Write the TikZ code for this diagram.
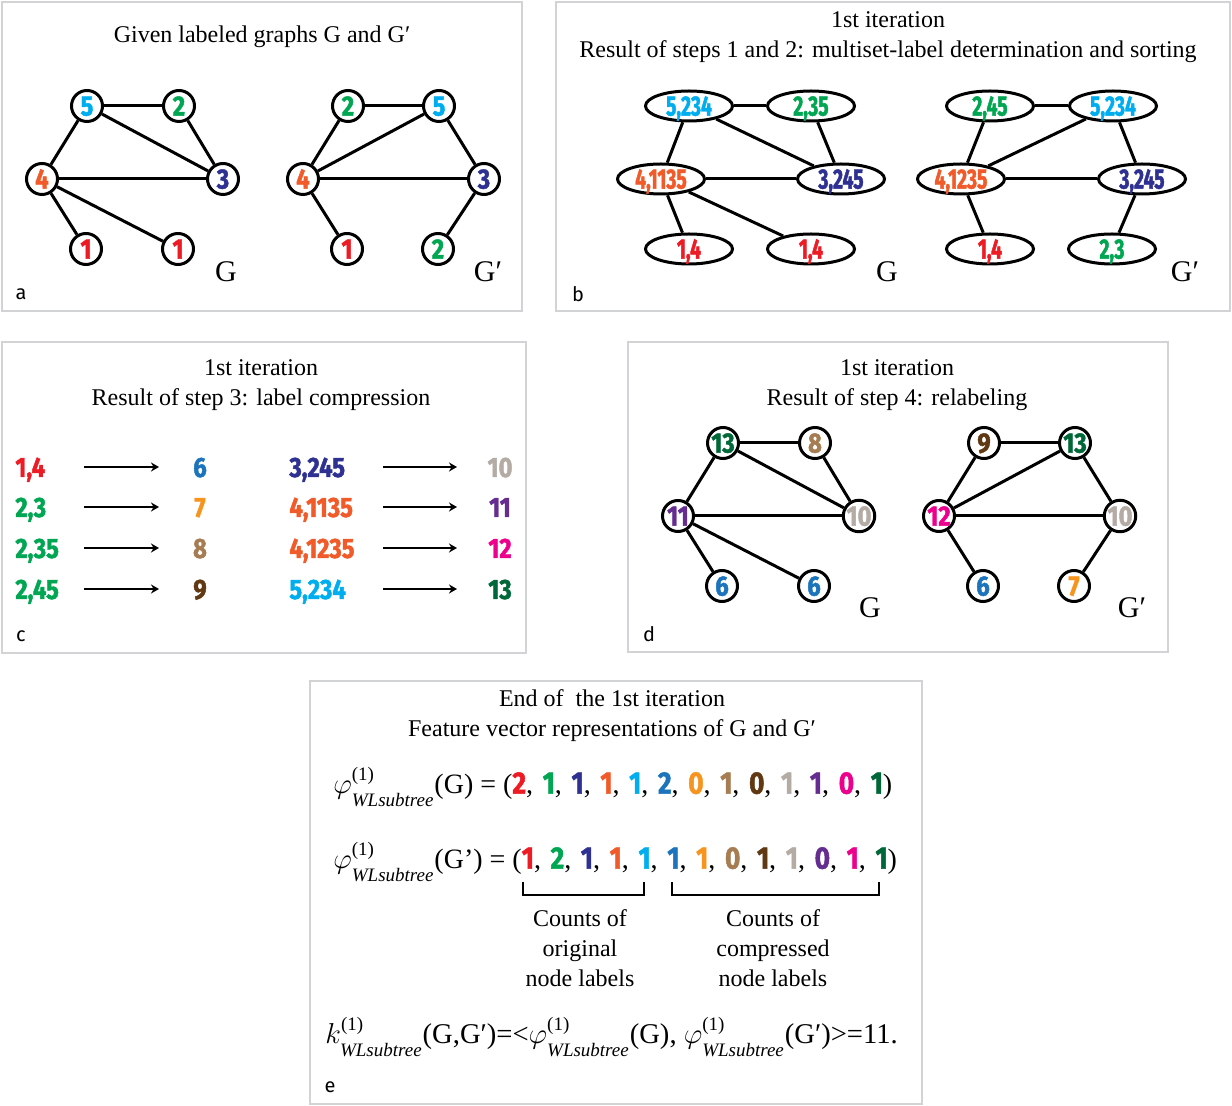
\documentclass[tikz,border=0pt]{standalone}
\usepackage{fontspec}
\usepackage{amsmath}
\setmainfont{Liberation Serif}
\newfontfamily\labfont{Fira Sans}[FakeStretch=0.85, FakeBold=1.6]
\newfontfamily\ovalfont{Fira Sans}[FakeStretch=0.69, FakeBold=1.6]
\newfontfamily\tagfont{Fira Sans}
\usetikzlibrary{arrows.meta,shapes.geometric}

\definecolor{panelgray}{HTML}{D1D3D4}
\definecolor{c1}{HTML}{ED1C24}
\definecolor{c2}{HTML}{00A651}
\definecolor{c3}{HTML}{2E3192}
\definecolor{c4}{HTML}{F15A29}
\definecolor{c5}{HTML}{00AEEF}
\definecolor{c6}{HTML}{1C75BC}
\definecolor{c7}{HTML}{F7941D}
\definecolor{c8}{HTML}{A67C52}
\definecolor{c9}{HTML}{603913}
\definecolor{c10}{HTML}{B3ABA4}
\definecolor{c11}{HTML}{662D91}
\definecolor{c12}{HTML}{EC008C}
\definecolor{c13}{HTML}{006838}

\newcommand{\nlab}[2]{\textcolor{#1}{\labfont\bfseries #2}}
\newcommand{\olab}[2]{\textcolor{#1}{\ovalfont\bfseries #2}}
\newcommand{\fd}[2]{{\fontsize{15.5}{14}\selectfont\nlab{#1}{#2}}}
\newcommand{\vsep}{,\kern1.3pt\ }
\newcommand{\wlsup}{\raisebox{1.5pt}{\fontsize{9.5}{9.5}\selectfont(1)}}
\newcommand{\wlsub}{\raisebox{-3pt}{\fontsize{9.5}{9.5}\selectfont\itshape WLsubtree}}
\newcommand{\phiwl}{$\varphi^{\wlsup}_{\wlsub}$}

\begin{document}
\begin{tikzpicture}[x=0.5pt,y=-0.5pt,
    panel/.style={draw=panelgray, line width=1.4pt},
    vtx/.style={circle, draw, line width=1.5pt, minimum size=15.5pt, inner sep=0pt,
        text height=9.6pt, text depth=0pt, font=\fontsize{14}{14}\selectfont},
    oval/.style={ellipse, draw, line width=1.5pt, minimum width=43.5pt, minimum height=15pt,
        inner xsep=-3pt, inner ysep=0pt, text height=9.6pt, text depth=0pt,
        font=\fontsize{14}{14}\selectfont},
    clab/.style={inner sep=0pt, text height=10pt, text depth=0pt, font=\fontsize{14}{14}\selectfont},
    edge/.style={line width=1.5pt},
    arr/.style={-{Stealth[length=4pt,width=4.5pt]}, line width=1.2pt},
    title/.style={align=center, font=\fontsize{12}{15}\selectfont},
    gname/.style={font=\fontsize{15}{15}\selectfont},
    tag/.style={font=\tagfont\fontsize{10}{10}\selectfont},
    formula/.style={inner sep=0pt, font=\fontsize{14}{14}\selectfont}]
\useasboundingbox (0,0) rectangle (1232,1106);

% Panels
\draw[panel] (2,2) rectangle (522,311);
\draw[panel] (556,2) rectangle (1230,311);
\draw[panel] (2,342) rectangle (526,653);
\draw[panel] (628,342) rectangle (1168,652);
\draw[panel] (310,681) rectangle (922,1104);

% a: given graphs
\node[title] (atitle) at (262,37) {Given labeled graphs G and G′};
\node[vtx] (aGu) at (87,106) {\nlab{c5}{5}};
\node[vtx] (aGv) at (179,106) {\nlab{c2}{2}};
\node[vtx] (aGw) at (42,179) {\nlab{c4}{4}};
\node[vtx] (aGx) at (223,179) {\nlab{c3}{3}};
\node[vtx] (aGy) at (86,249) {\nlab{c1}{1}};
\node[vtx] (aGz) at (178,249) {\nlab{c1}{1}};
\foreach \s/\t in {u/v,u/w,u/x,v/x,w/x,w/y,w/z}
    \draw[edge] (aG\s) -- (aG\t);
\node[vtx] (aHu) at (348,106) {\nlab{c2}{2}};
\node[vtx] (aHv) at (439,106) {\nlab{c5}{5}};
\node[vtx] (aHw) at (303,179) {\nlab{c4}{4}};
\node[vtx] (aHx) at (484,179) {\nlab{c3}{3}};
\node[vtx] (aHy) at (347,249) {\nlab{c1}{1}};
\node[vtx] (aHz) at (438,249) {\nlab{c2}{2}};
\foreach \s/\t in {u/v,u/w,v/w,v/x,w/x,w/y,x/z}
    \draw[edge] (aH\s) -- (aH\t);
\node[gname] (aG) at (226,272) {G};
\node[gname] (aH) at (488,272) {G′};
\node[tag] (atag) at (21,294) {a};

% b: multiset labels
\node[title] (btitle) at (888,37) {1st iteration\\Result of steps 1 and 2: multiset-label determination and sorting};
\node[oval] (bGu) at (689,106) {\olab{c5}{5,234}};
\node[oval] (bGv) at (811,106) {\olab{c2}{2,35}};
\node[oval] (bGw) at (661,179) {\olab{c4}{4,1135}};
\node[oval] (bGx) at (841,179) {\olab{c3}{3,245}};
\node[oval] (bGy) at (689,249) {\olab{c1}{1,4}};
\node[oval] (bGz) at (811,249) {\olab{c1}{1,4}};
\foreach \s/\t in {u/v,u/w,u/x,v/x,w/x,w/y,w/z}
    \draw[edge] (bG\s) -- (bG\t);
\node[oval] (bHu) at (990,106) {\olab{c2}{2,45}};
\node[oval] (bHv) at (1113,106) {\olab{c5}{5,234}};
\node[oval] (bHw) at (961,179) {\olab{c4}{4,1235}};
\node[oval] (bHx) at (1142,179) {\olab{c3}{3,245}};
\node[oval] (bHy) at (990,249) {\olab{c1}{1,4}};
\node[oval] (bHz) at (1112,249) {\olab{c2}{2,3}};
\foreach \s/\t in {u/v,u/w,v/w,v/x,w/x,w/y,x/z}
    \draw[edge] (bH\s) -- (bH\t);
\node[gname] (bG) at (887,272) {G};
\node[gname] (bH) at (1185,272) {G′};
\node[tag] (btag) at (578,294) {b};

% c: label compression
\node[title] (ctitle) at (261,385) {1st iteration\\Result of step 3: label compression};
\foreach \y/\la/\ca/\na/\cna [count=\i] in
    {467/{1,4}/c1/6/c6, 507/{2,3}/c2/7/c7, 548/{2,35}/c2/8/c8, 589/{2,45}/c2/9/c9} {
    \node[clab, anchor=west] (cl\i) at (15,\y) {\nlab{\ca}{\la}};
    \node[clab] (cn\i) at (200,\y) {\nlab{\cna}{\na}};
    \coordinate (cs\i) at (84,\y);
    \coordinate (ce\i) at (159,\y);
    \draw[arr] (cs\i) -- (ce\i);
}
\foreach \y/\la/\ca/\na/\cna [count=\i] in
    {467/{3,245}/c3/10/c10, 507/{4,1135}/c4/11/c11, 548/{4,1235}/c4/12/c12, 589/{5,234}/c5/13/c13} {
    \node[clab, anchor=west] (cr\i) at (289,\y) {\nlab{\ca}{\la}};
    \node[clab] (cm\i) at (500,\y) {\nlab{\cna}{\na}};
    \coordinate (ct\i) at (383,\y);
    \coordinate (cf\i) at (457,\y);
    \draw[arr] (ct\i) -- (cf\i);
}
\node[tag] (ctag) at (21,636) {c};

% d: relabeling
\node[title] (dtitle) at (897,385) {1st iteration\\Result of step 4: relabeling};
\node[vtx] (dGu) at (723,443) {\nlab{c13}{13}};
\node[vtx] (dGv) at (815,443) {\nlab{c8}{8}};
\node[vtx] (dGw) at (678,516) {\nlab{c11}{11}};
\node[vtx] (dGx) at (859,516) {\nlab{c10}{10}};
\node[vtx] (dGy) at (722,586) {\nlab{c6}{6}};
\node[vtx] (dGz) at (814,586) {\nlab{c6}{6}};
\foreach \s/\t in {u/v,u/w,u/x,v/x,w/x,w/y,w/z}
    \draw[edge] (dG\s) -- (dG\t);
\node[vtx] (dHu) at (984,443) {\nlab{c9}{9}};
\node[vtx] (dHv) at (1075,443) {\nlab{c13}{13}};
\node[vtx] (dHw) at (939,516) {\nlab{c12}{12}};
\node[vtx] (dHx) at (1120,516) {\nlab{c10}{10}};
\node[vtx] (dHy) at (983,586) {\nlab{c6}{6}};
\node[vtx] (dHz) at (1074,586) {\nlab{c7}{7}};
\foreach \s/\t in {u/v,u/w,v/w,v/x,w/x,w/y,x/z}
    \draw[edge] (dH\s) -- (dH\t);
\node[gname] (dG) at (870,608) {G};
\node[gname] (dH) at (1132,608) {G′};
\node[tag] (dtag) at (649,634) {d};

% e: feature vectors
\node[title] (etitle) at (612,716) {End of\ \ the 1st iteration\\Feature vector representations of G and G′};
\node[formula, anchor=west] (ephiG) at (333,787) {\phiwl(G) = (\fd{c1}{2}\vsep\fd{c2}{1}\vsep\fd{c3}{1}\vsep\fd{c4}{1}\vsep\fd{c5}{1}\vsep\fd{c6}{2}\vsep\fd{c7}{0}\vsep\fd{c8}{1}\vsep\fd{c9}{0}\vsep\fd{c10}{1}\vsep\fd{c11}{1}\vsep\fd{c12}{0}\vsep\fd{c13}{1})};
\node[formula, anchor=west] (ephiH) at (333,862) {\phiwl(G’) = (\fd{c1}{1}\vsep\fd{c2}{2}\vsep\fd{c3}{1}\vsep\fd{c4}{1}\vsep\fd{c5}{1}\vsep\fd{c6}{1}\vsep\fd{c7}{1}\vsep\fd{c8}{0}\vsep\fd{c9}{1}\vsep\fd{c10}{1}\vsep\fd{c11}{0}\vsep\fd{c12}{1}\vsep\fd{c13}{1})};
% brackets
\draw[line width=1.3pt] (523,882) -- (523,895) -- (644,895) -- (644,882);
\draw[line width=1.3pt] (672,882) -- (672,895) -- (879,895) -- (879,882);
\node[title] (eorig) at (580,948) {Counts of\\original\\node labels};
\node[title] (ecomp) at (773,948) {Counts of\\compressed\\node labels};
\node[formula, anchor=west, font=\fontsize{14.3}{14}\selectfont] (ekern) at (325,1037) {$k^{\wlsup}_{\wlsub}$(G,G′)=<\phiwl(G), \phiwl(G′)>=11.};
\node[tag] (etag) at (330,1087) {e};
\end{tikzpicture}
\end{document}
